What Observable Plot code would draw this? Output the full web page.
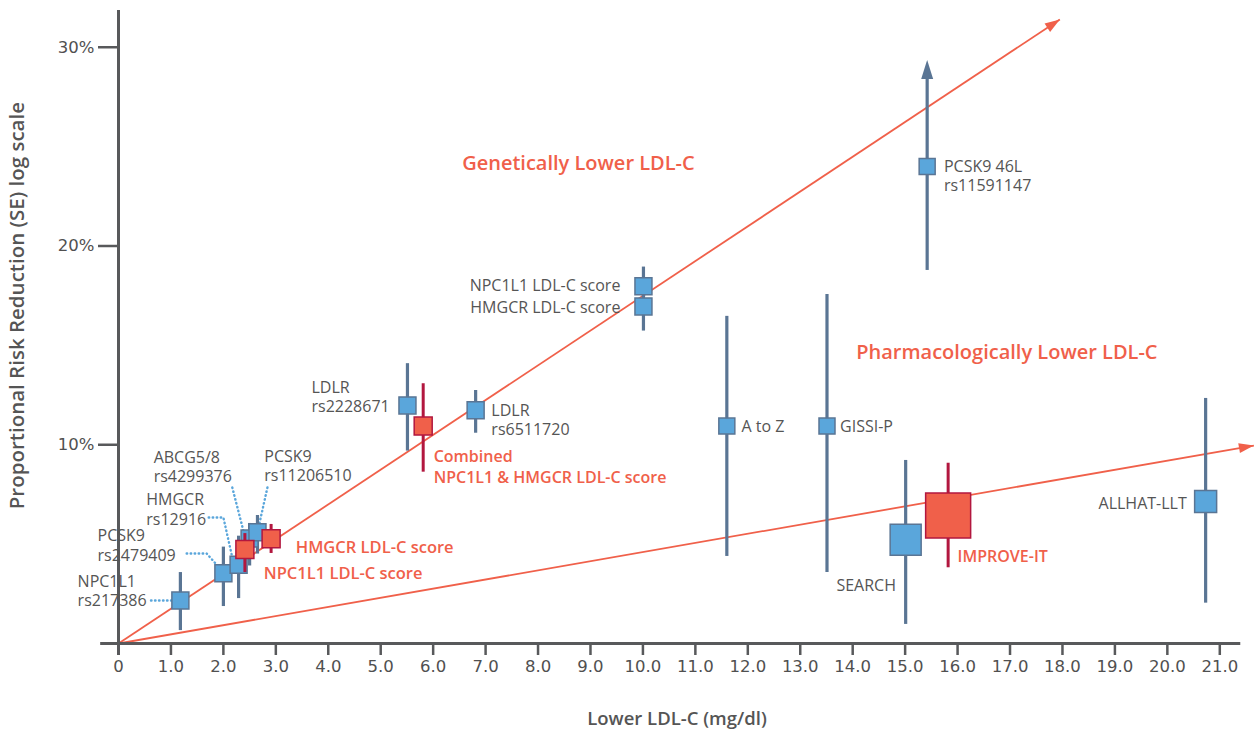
<!DOCTYPE html>
<html>
<head>
<meta charset="utf-8">
<script src="https://cdn.jsdelivr.net/npm/d3@7"></script>
<script src="https://cdn.jsdelivr.net/npm/@observablehq/plot@0.6"></script>
<style>
  html, body { margin: 0; padding: 0; background: #fff; }
  #chart svg { display: block; font-family: "Open Sans", sans-serif; }
</style>
</head>
<body>
<div id="chart"></div>
<script>
// ---- data ----
const studies = [
  "NPC1L1 rs217386", "PCSK9 rs2479409", "HMGCR rs12916", "ABCG5/8 rs4299376",
  "PCSK9 rs11206510", "NPC1L1 LDL-C score (combined)", "HMGCR LDL-C score (combined)",
  "LDLR rs2228671", "Combined NPC1L1 & HMGCR LDL-C score", "LDLR rs6511720",
  "NPC1L1 LDL-C score", "HMGCR LDL-C score", "A to Z", "GISSI-P",
  "PCSK9 46L rs11591147", "SEARCH", "IMPROVE-IT", "ALLHAT-LLT"
];
const ldlLowering   = [1.18, 2.0, 2.29, 2.5, 2.65, 2.41, 2.91, 5.51, 5.81, 6.81, 10.01, 10.01, 11.6, 13.51, 15.42, 15.01, 15.82, 20.73];
const riskReduction = [2.16, 3.54, 3.96, 5.28, 5.6, 4.73, 5.27, 11.98, 10.94, 11.73, 17.98, 16.96, 10.94, 10.94, 24.0, 5.22, 6.44, 7.15];
const seLow         = [0.65, 1.86, 2.26, 3.9, 4.5, 3.57, 4.53, 9.68, 8.62, 10.58, 17.4, 15.72, 4.38, 3.57, 18.77, 0.96, 3.81, 2.03];
const seHigh        = [3.57, 4.85, 5.4, 6.04, 6.44, 5.53, 5.99, 14.08, 13.07, 12.73, 18.94, 17.93, 16.46, 17.56, 28.4, 9.21, 9.07, 12.33];
const highlighted   = [false, false, false, false, false, true, true, false, true, false, false, false, false, false, false, false, true, false];
const offScale      = [false, false, false, false, false, false, false, false, false, false, false, false, false, false, true, false, false, false];

const xTicks = [0,1,2,3,4,5,6,7,8,9,10,11,12,13,14,15,16,17,18,19,20,21];
const yTicks = [10, 20, 30];

// reference lines (start and arrow end)
const guideLines = [
  {x1: 0, y1: 0, x2: 17.95, y2: 31.4},
  {x1: 0, y1: 0, x2: 21.65, y2: 9.96}
];

// ---- layout & styles (not data) ----
const W = 1258, H = 729, ML = 118, MR = 2, MT = 7, MB = 86;
const X_DOMAIN = [0, 21.7], Y_DOMAIN = [0, 32];
const kx = (W - ML - MR) / (X_DOMAIN[1] - X_DOMAIN[0]);
const ky = (H - MT - MB) / (Y_DOMAIN[1] - Y_DOMAIN[0]);
const headRotate = d => 90 - Math.atan2((d.y2 - d.y1) * ky, (d.x2 - d.x1) * kx) * 180 / Math.PI;

const squareSide = {
  "SEARCH": 31, "IMPROVE-IT": 45, "ALLHAT-LLT": 22,
  "A to Z": 16, "GISSI-P": 16, "PCSK9 46L rs11591147": 16,
  "NPC1L1 LDL-C score (combined)": 18, "HMGCR LDL-C score (combined)": 18,
  "Combined NPC1L1 & HMGCR LDL-C score": 18
};
const defaultSide = 17;

const rows = studies.map((s, i) => ({
  study: s, x: ldlLowering[i], y: riskReduction[i], lo: seLow[i], hi: seHigh[i],
  red: highlighted[i], arrow: offScale[i], side: squareSide[s] || defaultSide
}));
const blueRows = rows.filter(d => !d.red);
const redRows = rows.filter(d => d.red);

// annotations (text anchors in data units)
const grayLabels = [
  {t: "NPC1L1\nrs217386", x: -0.78, y: 2.69, a: "start"},
  {t: "PCSK9\nrs2479409", x: -0.40, y: 4.98, a: "start"},
  {t: "HMGCR\nrs12916", x: 0.53, y: 6.79, a: "start"},
  {t: "ABCG5/8\nrs4299376", x: 0.67, y: 8.93, a: "start"},
  {t: "PCSK9\nrs11206510", x: 2.78, y: 8.96, a: "start"},
  {t: "LDLR\nrs2228671", x: 3.68, y: 12.43, a: "start"},
  {t: "LDLR\nrs6511720", x: 7.11, y: 11.28, a: "start"},
  {t: "NPC1L1 LDL-C score", x: 9.57, y: 18.07, a: "end"},
  {t: "HMGCR LDL-C score", x: 9.57, y: 16.96, a: "end"},
  {t: "A to Z", x: 11.88, y: 10.94, a: "start"},
  {t: "GISSI-P", x: 13.76, y: 10.94, a: "start"},
  {t: "PCSK9 46L\nrs11591147", x: 15.74, y: 23.55, a: "start"},
  {t: "SEARCH", x: 13.69, y: 2.95, a: "start"},
  {t: "ALLHAT-LLT", x: 20.37, y: 7.10, a: "end"}
];
const redLabels = [
  {t: "Combined\nNPC1L1 & HMGCR LDL-C score", x: 6.01, y: 8.96, a: "start", s: 16},
  {t: "HMGCR LDL-C score", x: 3.38, y: 4.88, a: "start", s: 16.5},
  {t: "NPC1L1 LDL-C score", x: 2.77, y: 3.62, a: "start", s: 16.5},
  {t: "IMPROVE-IT", x: 16.0, y: 4.43, a: "start", s: 16},
  {t: "Genetically Lower LDL-C", x: 8.77, y: 24.26, a: "middle", s: 20},
  {t: "Pharmacologically Lower LDL-C", x: 16.94, y: 14.75, a: "middle", s: 20}
];
// dotted leaders: polylines in data units
const leaders = [
  [[0.62, 2.16], [1.01, 2.16]],
  [[1.30, 4.53], [1.68, 4.53], [1.85, 4.03]],
  [[1.72, 6.34], [2.00, 6.34], [2.17, 4.33]],
  [[2.17, 7.85], [2.38, 5.69]],
  [[2.84, 7.85], [2.67, 5.84]]
];
const leaderPts = leaders.flatMap((pts, k) => pts.map(p => ({k, x: p[0], y: p[1]})));

const RED = "#f0604a", REDDARK = "#b2173f", BLUE = "#5aa6db", BLUEDARK = "#5a7594", GRAY = "#555555";
const AXIS = "#58595b";

const textMarks = (labels, opts) => ["start", "middle", "end"].map(a =>
  Plot.text(labels.filter(d => d.a === a), {x: "x", y: "y", text: "t", textAnchor: a, lineAnchor: "middle", ...opts}));

const chart = Plot.plot({
  width: W, height: H,
  marginLeft: ML, marginRight: MR, marginTop: MT, marginBottom: MB,
  x: {domain: X_DOMAIN},
  y: {domain: Y_DOMAIN},
  r: {type: "identity"},
  style: {fontFamily: "Open Sans, sans-serif", overflow: "visible"},
  marks: [
    // guide lines with filled arrowheads
    Plot.link(guideLines, {x1: "x1", y1: "y1", x2: "x2", y2: "y2", stroke: RED, strokeWidth: 1.8}),
    Plot.vector(guideLines, {x: "x2", y: "y2", rotate: headRotate, length: 15, r: 5, shape: "spike",
      anchor: "end", fill: RED, stroke: "none"}),
    // axes lines
    Plot.ruleY([0], {x1: -0.34, x2: 21.4, stroke: AXIS, strokeWidth: 3}),
    Plot.ruleX([0], {y1: -0.6, y2: 31.85, stroke: AXIS, strokeWidth: 3}),
    Plot.axisX({ticks: xTicks, tickSize: 12, tickPadding: 5, strokeWidth: 2.5, stroke: AXIS,
      fill: "#505050", fontSize: 16.5, fontFamily: "DejaVu Sans",
      tickFormat: d => d === 0 ? "0" : d.toFixed(1), label: null}),
    Plot.axisY({ticks: yTicks, tickSize: 20, tickPadding: 4, strokeWidth: 2.5, stroke: AXIS,
      fill: "#505050", fontSize: 16.5, fontFamily: "DejaVu Sans",
      tickFormat: d => d + "%", label: null}),
    // dotted leaders
    Plot.line(leaderPts, {x: "x", y: "y", z: "k", stroke: BLUE, strokeWidth: 2.4,
      strokeDasharray: "0.5,3.5", strokeLinecap: "round"}),
    // blue error bars and squares
    Plot.ruleX(blueRows, {x: "x", y1: "lo", y2: "hi", stroke: BLUEDARK, strokeWidth: 3.2}),
    Plot.vector(blueRows.filter(d => d.arrow), {x: "x", y: "hi", length: 19, r: 6, shape: "spike",
      anchor: "start", rotate: 0, fill: BLUEDARK, stroke: "none"}),
    Plot.dot(blueRows, {x: "x", y: "y", symbol: "square", r: d => d.side / Math.sqrt(Math.PI),
      fill: BLUE, stroke: BLUEDARK, strokeWidth: 1.5}),
    // red error bars and squares
    Plot.ruleX(redRows, {x: "x", y1: "lo", y2: "hi", stroke: REDDARK, strokeWidth: 3}),
    Plot.dot(redRows, {x: "x", y: "y", symbol: "square", r: d => d.side / Math.sqrt(Math.PI),
      fill: RED, stroke: REDDARK, strokeWidth: 1.5}),
    // labels
    ...textMarks(grayLabels, {lineHeight: 1.22, fill: GRAY, fontSize: 16}),
    ...textMarks(redLabels, {lineHeight: 1.32, fill: RED, fontSize: "s", fontWeight: 600}),
    // axis titles
    Plot.text(["Proportional Risk Reduction (SE) log scale"], {x: () => -1.93, y: () => 17.0,
      rotate: -90, fill: GRAY, fontSize: 20.5, fontWeight: 600}),
    Plot.text(["Lower LDL-C (mg/dl)"], {x: () => 10.65, y: () => -3.8,
      fill: GRAY, fontSize: 18.5, fontWeight: 600})
  ]
});
document.getElementById("chart").appendChild(chart);
</script>
</body>
</html>
